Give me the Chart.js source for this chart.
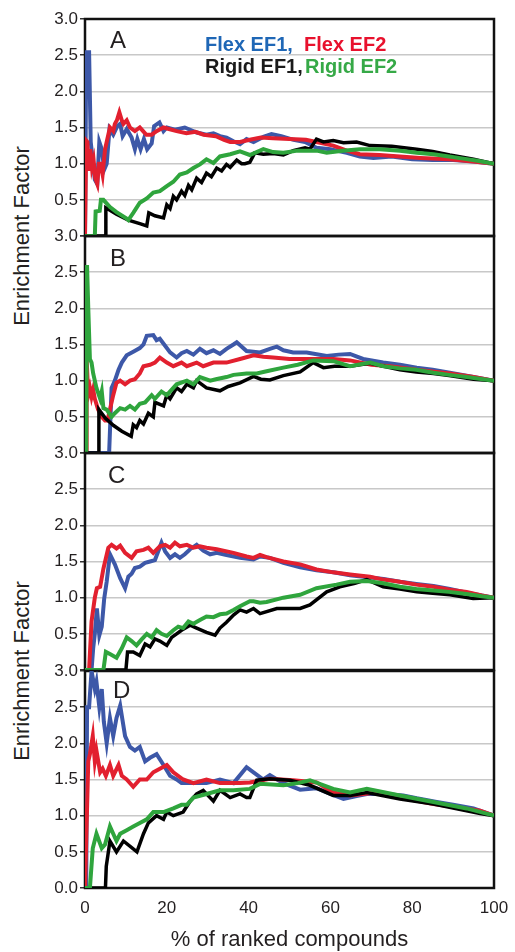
<!DOCTYPE html>
<html>
<head>
<meta charset="utf-8">
<script src="https://cdn.jsdelivr.net/npm/chart.js@4.4.1/dist/chart.umd.min.js"></script>
<style>
  html, body { margin: 0; padding: 0; background: #fff; }
  body { width: 515px; height: 952px; position: relative; overflow: hidden; font-family: "Liberation Sans", Arial, sans-serif; color: #231f20; }
  canvas { position: absolute; left: 0; }
  .lbl { position: absolute; font-size: 24px; line-height: 24px; }
  .ytitle { position: absolute; font-size: 22px; line-height: 22px; white-space: nowrap; transform: translate(-50%, -50%) rotate(-90deg); }
  .leg { position: absolute; font-size: 20px; line-height: 20px; font-weight: bold; white-space: nowrap; }
</style>
</head>
<body>
<div class="ytitle" style="left:22px;top:236px">Enrichment Factor</div>
<div class="ytitle" style="left:22px;top:671px">Enrichment Factor</div>

<script>
// x = % of ranked compounds, y = enrichment factor  ([x, y] pairs)
var panelNames = ['A', 'B', 'C', 'D'];
var xTicks = [0, 20, 40, 60, 80, 100];
var yTicks = [0, 0.5, 1.0, 1.5, 2.0, 2.5, 3.0];

// ---- panel A
var A_flex1 = [[0,0],[0.3,2.54],[1.0,2.54],[1.4,1.3],[2.4,0.78],[3.0,0.72],[3.5,1.3],[4.1,1.2],[4.7,0.92],[5.3,1.0],[6.0,1.48],[6.9,1.4],[7.9,1.52],[8.6,1.55],[9.2,1.38],[10.2,1.48],[11.4,1.36],[12.2,1.2],[12.8,1.34],[13.6,1.2],[14.4,1.34],[15.2,1.2],[16.3,1.28],[16.9,1.52],[18.2,1.57],[19.2,1.45],[20,1.5],[22,1.47],[24.4,1.5],[27.3,1.43],[29.7,1.4],[31.4,1.42],[33,1.38],[34.6,1.36],[36.3,1.31],[37.9,1.27],[39.5,1.34],[41.2,1.3],[43.6,1.37],[45.6,1.41],[48,1.38],[51,1.33],[53.8,1.3],[56.6,1.22],[60,1.2],[64,1.15],[67.2,1.1],[70.5,1.08],[75,1.1],[80,1.06],[85,1.05],[90,1.05],[95,1.03],[100,1.0]];
var A_flex2 = [[0,0],[0.3,1.32],[0.6,1.3],[0.9,0.9],[1.3,1.2],[1.7,0.95],[2.1,1.05],[2.5,0.8],[3.0,0.72],[3.4,1.0],[3.8,1.0],[4.3,0.85],[4.9,1.2],[5.3,1.3],[6.1,1.5],[6.9,1.45],[7.3,1.55],[7.8,1.6],[8.4,1.71],[9.0,1.6],[9.4,1.55],[10.2,1.6],[11,1.5],[12.2,1.45],[13.4,1.5],[14.2,1.45],[15.0,1.4],[16.3,1.4],[17.5,1.45],[19.2,1.5],[20.5,1.48],[22.4,1.45],[24.8,1.42],[27,1.44],[29,1.4],[32,1.38],[34,1.33],[35.5,1.3],[37.9,1.3],[40.3,1.33],[43,1.36],[46,1.35],[50,1.34],[54,1.33],[56.6,1.3],[60.7,1.25],[64,1.18],[67.2,1.13],[72,1.12],[77,1.1],[82,1.08],[89,1.06],[95,1.03],[100,1.0]];
var A_rigid1 = [[0,0],[5.0,0],[5.1,0.39],[7.7,0.3],[10.6,0.22],[13.4,0.17],[15.1,0.14],[15.6,0.32],[17.1,0.28],[19.2,0.25],[20,0.43],[20.8,0.38],[21.6,0.55],[22.4,0.5],[23.6,0.62],[24.4,0.56],[25.3,0.7],[26.1,0.64],[27.3,0.8],[28.5,0.74],[29.7,0.87],[30.9,0.82],[32.2,0.94],[33.4,0.9],[34.6,0.99],[35.5,0.95],[37.1,1.05],[38.3,1.0],[39.1,1.0],[40.3,1.02],[41.5,1.15],[43.6,1.13],[46,1.14],[48.5,1.12],[50.9,1.18],[53.8,1.22],[55,1.2],[56.6,1.34],[58.3,1.3],[60.7,1.32],[63.2,1.29],[66.4,1.3],[69.7,1.25],[75,1.24],[81.1,1.2],[85,1.17],[89.2,1.12],[95,1.06],[100,1.0]];
var A_rigid2 = [[0,0],[2.4,0],[2.6,0.34],[3.6,0.35],[3.9,0.5],[4.5,0.5],[6.1,0.4],[7.7,0.33],[10.2,0.24],[10.6,0.22],[11.8,0.32],[13.4,0.46],[15.1,0.52],[16.7,0.6],[18.3,0.62],[20,0.69],[21.6,0.75],[23.2,0.85],[24.9,0.88],[26.5,0.94],[28.1,0.99],[29.7,1.06],[31.4,1.01],[33,1.1],[35.5,1.13],[37.9,1.17],[40.3,1.12],[43.6,1.2],[46,1.16],[48.5,1.15],[52,1.18],[56.6,1.18],[59.1,1.15],[63,1.18],[67.2,1.2],[72,1.2],[77,1.18],[81.1,1.15],[85.2,1.13],[89,1.1],[92.5,1.07],[96,1.04],[100,1.0]];

// ---- panel B
var B_flex1 = [[0,0],[5.9,0],[6.5,0.9],[7.3,1.0],[8.2,1.15],[9,1.25],[10.2,1.35],[11.8,1.4],[13.4,1.45],[14.3,1.5],[15.1,1.62],[16.7,1.63],[17.5,1.56],[18.3,1.58],[20.8,1.39],[22.4,1.32],[23.6,1.38],[24.9,1.41],[26.5,1.36],[28.1,1.44],[29.7,1.38],[31.4,1.42],[33,1.37],[34.6,1.44],[36.3,1.5],[37.1,1.53],[39.5,1.41],[42.8,1.39],[45.2,1.44],[46.9,1.47],[48.5,1.42],[50.9,1.39],[54.2,1.39],[59.1,1.34],[62,1.36],[64.8,1.37],[68,1.3],[72.9,1.25],[77,1.22],[81.1,1.18],[85,1.15],[89.2,1.11],[95,1.05],[100,1.0]];
var B_flex2 = [[0,0],[0.3,0],[0.4,1.3],[0.8,0.8],[1.2,0.9],[1.6,0.78],[2.0,0.88],[2.4,0.75],[3.2,0.6],[4.1,0.5],[4.9,0.45],[5.5,0.45],[6.1,0.6],[6.9,0.8],[7.7,0.97],[8.6,1.0],[9.8,0.95],[11,1.0],[12.2,1.02],[13.4,1.1],[14.3,1.2],[15.9,1.22],[17.1,1.25],[18.3,1.32],[20,1.25],[21.6,1.2],[23.6,1.25],[24.9,1.2],[27.3,1.25],[28.9,1.2],[31.4,1.25],[34.6,1.25],[37.9,1.3],[41.2,1.35],[43.6,1.33],[46,1.32],[50,1.3],[55,1.3],[60.7,1.3],[64.8,1.28],[70,1.22],[74.6,1.2],[81.1,1.15],[89.2,1.1],[95,1.05],[100,1.0]];
var B_rigid1 = [[0,0],[3.2,0],[3.4,0.6],[5,0.48],[7,0.38],[9,0.3],[11.3,0.23],[11.8,0.39],[12.6,0.35],[13.4,0.45],[14.3,0.4],[15.5,0.55],[16.7,0.5],[17.1,0.7],[19.2,0.65],[20,0.8],[20.8,0.75],[22.4,0.9],[23.6,0.85],[24.9,0.95],[26.5,0.9],[27.3,1.0],[29.7,0.9],[33,0.86],[35,0.92],[37.9,0.97],[41.2,1.06],[43,1.02],[45.2,1.01],[48.5,1.07],[52.6,1.12],[55.8,1.25],[58.3,1.18],[61,1.2],[64.8,1.2],[69.7,1.24],[73,1.2],[77,1.15],[81,1.12],[85.2,1.1],[89,1.07],[95,1.02],[100,1.0]];
var B_rigid2 = [[0,0],[0.3,0],[0.5,2.6],[0.8,2.0],[1.2,1.3],[1.6,1.25],[2.0,1.1],[2.8,0.9],[3.7,0.75],[4.1,0.85],[4.5,0.62],[5.3,0.6],[6.5,0.5],[7.3,0.55],[8.6,0.62],[9.8,0.6],[11.0,0.65],[12.2,0.6],[13.4,0.68],[14.7,0.7],[16.3,0.8],[17.1,0.75],[18.7,0.85],[20,0.8],[21.6,0.9],[22.4,0.95],[24.9,1.0],[26.5,0.95],[28.1,1.05],[30.6,1.0],[32,1.02],[34.6,1.05],[36.3,1.08],[39.5,1.1],[42,1.1],[44.4,1.13],[48.5,1.18],[52,1.22],[55.8,1.28],[60.7,1.27],[64.8,1.2],[69.7,1.25],[73,1.2],[77,1.17],[81,1.15],[85.2,1.11],[89,1.08],[93.3,1.05],[100,1.0]];

// ---- panel C
var C_flex1 = [[0,0],[1.6,0],[2.0,0.3],[2.4,0.5],[2.9,0.85],[3.5,0.48],[4.1,0.6],[4.7,0.99],[5.3,1.22],[6.1,1.6],[7.3,1.46],[8.6,1.27],[9.8,1.13],[10.6,1.29],[11.4,1.33],[12.2,1.41],[13.4,1.43],[14.7,1.48],[15.9,1.5],[17.1,1.52],[18.7,1.76],[19.6,1.64],[20.8,1.55],[22,1.6],[23.2,1.55],[24.4,1.6],[25.7,1.67],[27.3,1.73],[28.9,1.65],[30.6,1.6],[32.2,1.62],[34.6,1.59],[37.9,1.55],[41.2,1.53],[42.8,1.57],[45.2,1.55],[48.5,1.48],[52.6,1.42],[56.6,1.38],[60.7,1.35],[64.8,1.31],[69.7,1.28],[73,1.26],[77,1.22],[81,1.19],[85.2,1.16],[89.2,1.12],[93.3,1.07],[97,1.03],[100,1.0]];
var C_flex2 = [[0,0],[1.0,0],[1.6,0.67],[2.4,1.0],[2.9,1.13],[3.7,1.15],[4.5,1.4],[5.7,1.69],[6.5,1.73],[7.7,1.68],[8.6,1.72],[9.8,1.62],[11.4,1.55],[12.6,1.64],[14.3,1.66],[15.5,1.69],[16.7,1.62],[18.3,1.71],[19.6,1.73],[20.8,1.69],[22,1.76],[23.2,1.71],[24.9,1.73],[26.5,1.69],[28.1,1.71],[29.7,1.69],[32.2,1.67],[36.3,1.62],[39.5,1.57],[41.2,1.55],[42.8,1.59],[44.4,1.56],[48.5,1.5],[52.6,1.46],[56.6,1.39],[60.7,1.35],[64.8,1.32],[69.7,1.29],[73,1.25],[77,1.22],[81,1.18],[85.2,1.15],[89.2,1.11],[93.3,1.08],[97,1.03],[100,1.0]];
var C_rigid1 = [[0,0],[10,0],[10.4,0.25],[11.8,0.25],[13.4,0.2],[14.7,0.36],[15.9,0.32],[17.1,0.43],[18.3,0.4],[20,0.34],[21.2,0.45],[22.4,0.5],[23.6,0.55],[25.7,0.62],[27.3,0.58],[29.7,0.52],[31.8,0.48],[33,0.58],[34.6,0.66],[36.3,0.76],[37.9,0.83],[39.5,0.8],[41.2,0.85],[42.8,0.78],[46.9,0.85],[52.6,0.85],[55,0.9],[59.1,1.08],[62.3,1.15],[66,1.2],[68.9,1.25],[72.9,1.15],[77,1.12],[81.1,1.08],[85,1.06],[89.2,1.04],[94.9,0.99],[100,1.0]];
var C_rigid2 = [[0,0],[4.5,0],[5.1,0.25],[6.1,0.22],[7.7,0.17],[9,0.3],[10.2,0.45],[11.4,0.4],[12.6,0.34],[13.8,0.42],[15.1,0.5],[16.3,0.45],[17.5,0.55],[18.7,0.5],[20,0.47],[21.6,0.55],[22.8,0.6],[24,0.58],[25.3,0.67],[26.5,0.64],[28.1,0.69],[29.7,0.74],[31.4,0.73],[33,0.77],[34.6,0.78],[36.3,0.83],[37.9,0.88],[40.3,0.95],[41.2,0.95],[42.8,0.93],[44.4,0.94],[48.5,1.0],[52.6,1.04],[56.6,1.13],[61.5,1.18],[64.8,1.22],[68.9,1.23],[72.9,1.2],[77,1.15],[81,1.12],[85.2,1.1],[89,1.08],[93.3,1.05],[97,1.02],[100,1.0]];

// ---- panel D
var D_flex1 = [[0,0],[0.3,0],[0.5,2.5],[1.0,2.5],[1.6,3.0],[2.4,2.75],[2.8,2.85],[3.5,2.5],[4.1,2.75],[4.6,2.3],[5.3,2.0],[6.1,2.35],[6.9,2.1],[7.7,2.35],[8.6,2.52],[9.8,2.1],[11,1.95],[12.2,1.9],[13.4,1.95],[14.7,1.75],[15.9,1.8],[17.5,1.85],[19.2,1.7],[20.8,1.55],[22.4,1.5],[23.6,1.45],[26.5,1.45],[29.7,1.45],[33,1.5],[36.3,1.45],[39.5,1.67],[41.2,1.6],[43.6,1.5],[45.2,1.56],[48.5,1.45],[52.6,1.36],[56.6,1.38],[60,1.3],[63.2,1.23],[66.4,1.27],[68.9,1.3],[72.9,1.3],[77.8,1.28],[81.1,1.24],[86,1.19],[90,1.15],[95,1.1],[100,1.0]];
var D_flex2 = [[0,0],[0.2,0],[0.8,1.75],[1.2,1.85],[1.9,2.1],[2.4,1.75],[2.8,1.9],[3.7,1.6],[4.3,1.65],[5.1,1.55],[6.1,1.7],[6.9,1.55],[8.2,1.7],[9,1.55],[10.2,1.5],[11.8,1.4],[13.4,1.5],[15.1,1.5],[16.7,1.6],[18.3,1.65],[20,1.7],[21.6,1.6],[24,1.5],[26.5,1.45],[29.7,1.5],[33,1.45],[37.9,1.45],[40.3,1.46],[45.2,1.51],[50.9,1.49],[56.6,1.46],[60.7,1.32],[64.8,1.28],[71.3,1.32],[77,1.25],[85.2,1.16],[96.6,1.07],[100,1.0]];
var D_rigid1 = [[0,0],[5.0,0],[5.2,0.3],[6.1,0.65],[7.7,0.5],[9.4,0.65],[12.7,0.5],[14.3,0.75],[15.5,0.9],[17.5,1.0],[19.2,0.95],[20,1.05],[21.6,1.0],[24,1.05],[25.7,1.2],[27.3,1.3],[28.9,1.35],[31.4,1.2],[33,1.35],[35.5,1.25],[37.9,1.3],[39.5,1.25],[40.3,1.25],[42,1.49],[45.2,1.51],[50.1,1.49],[55,1.42],[60.7,1.28],[64.8,1.28],[68.9,1.32],[77,1.23],[85.2,1.16],[96.6,1.03],[100,1.0]];
var D_rigid2 = [[0,0],[1.2,0],[1.9,0.55],[2.8,0.75],[4.1,0.55],[4.9,0.6],[6.1,0.85],[7.7,0.65],[8.6,0.75],[10.2,0.8],[11.8,0.85],[13.4,0.9],[15.1,0.95],[16.7,1.05],[19.2,1.05],[21.6,1.1],[23.6,1.15],[24.9,1.15],[26.5,1.25],[29.7,1.3],[33,1.35],[36.3,1.35],[40.3,1.37],[42.8,1.44],[48.5,1.42],[52,1.45],[55,1.49],[60.7,1.37],[64.8,1.32],[68.9,1.37],[77,1.28],[85.2,1.19],[93.3,1.1],[100,1.0]];

var panelData = [
  [A_flex1, A_flex2, A_rigid1, A_rigid2],
  [B_flex1, B_flex2, B_rigid1, B_rigid2],
  [C_flex1, C_flex2, C_rigid1, C_rigid2],
  [D_flex1, D_flex2, D_rigid1, D_rigid2]
];
var seriesNames = ['Flex EF1', 'Flex EF2', 'Rigid EF1', 'Rigid EF2'];
var seriesColors = ['#3d58a8', '#e2202f', '#000000', '#2fa53d'];

var panelTops = [19, 236, 453, 671];
var panelH = 217;
var pad = 15;

// box around each plot, drawn under the lines
var frame = {
  id: 'frame',
  beforeDatasetsDraw: function (chart) {
    var a = chart.chartArea, ctx = chart.ctx;
    ctx.save();
    ctx.strokeStyle = '#111';
    ctx.lineWidth = 2.5;
    ctx.strokeRect(a.left, a.top, a.right - a.left, a.bottom - a.top);
    ctx.restore();
  }
};

function addText(cls, html, left, top, color) {
  var d = document.createElement('div');
  d.className = cls;
  d.innerHTML = html;
  d.style.left = left + 'px';
  d.style.top = top + 'px';
  if (color) d.style.color = color;
  document.body.appendChild(d);
}

function makePanel(i) {
  var last = i === 3;
  var cv = document.createElement('canvas');
  cv.width = 515;
  cv.height = last ? 952 - (panelTops[i] - pad) : panelH + 2 * pad;
  cv.style.top = (panelTops[i] - pad) + 'px';
  document.body.appendChild(cv);

  // draw order: green on top, then black, red, blue
  var drawOrder = [3, 2, 1, 0];
  var datasets = drawOrder.map(function (k) {
    return {
      label: seriesNames[k],
      data: panelData[i][k],
      borderColor: seriesColors[k],
      borderWidth: k === 2 ? 3.5 : 4,
      pointRadius: 0,
      tension: 0,
      fill: false
    };
  });

  new Chart(cv, {
    type: 'line',
    data: { datasets: datasets },
    options: {
      responsive: false,
      animation: false,
      layout: { padding: { top: pad, right: 21, bottom: last ? 0 : pad, left: 0 } },
      plugins: { legend: { display: false }, tooltip: { enabled: false } },
      scales: {
        x: {
          type: 'linear', min: xTicks[0], max: xTicks[xTicks.length - 1],
          display: last,
          afterBuildTicks: function (s) { s.ticks = xTicks.map(function (v) { return { value: v }; }); },
          ticks: { padding: 10, color: '#231f20', font: { family: 'Liberation Sans', size: 17 } },
          grid: { display: false, drawTicks: false },
          border: { display: false },
          title: { display: true, text: '% of ranked compounds', color: '#231f20',
                   font: { family: 'Liberation Sans', size: 22, lineHeight: 1.1 }, padding: { top: 0, bottom: 0 } },
          afterFit: function (s) {
            if (!last) return;
            s.height = 64;
            s.paddingLeft = 0;
            s.paddingRight = 0;
          }
        },
        y: {
          min: yTicks[0], max: yTicks[yTicks.length - 1],
          afterBuildTicks: function (s) { s.ticks = yTicks.map(function (v) { return { value: v }; }); },
          ticks: {
            padding: 2, color: '#231f20', font: { family: 'Liberation Sans', size: 17 },
            callback: function (v) { return (v === 0 && !last) ? '' : Number(v).toFixed(1); }
          },
          grid: { color: '#c8c8c8', lineWidth: 1.5, tickColor: '#333', tickLength: 5 },
          border: { display: false },
          afterFit: function (s) { s.width = 85; }
        }
      }
    },
    plugins: [frame]
  });
}

for (var i = 0; i < 4; i++) makePanel(i);

// panel letters
var letterPos = [[110, 27.7], [110, 246.4], [108, 462.7], [113, 677.7]];
panelNames.forEach(function (n, k) { addText('lbl', n, letterPos[k][0], letterPos[k][1]); });

// legend text in panel A
addText('leg', 'Flex EF1,', 205, 34, '#1f67b6');
addText('leg', 'Flex EF2', 304, 34, '#e8112d');
addText('leg', 'Rigid EF1,', 205, 56, '#1a1a1a');
addText('leg', 'Rigid EF2', 305, 56, '#36a947');
</script>
</body>
</html>
